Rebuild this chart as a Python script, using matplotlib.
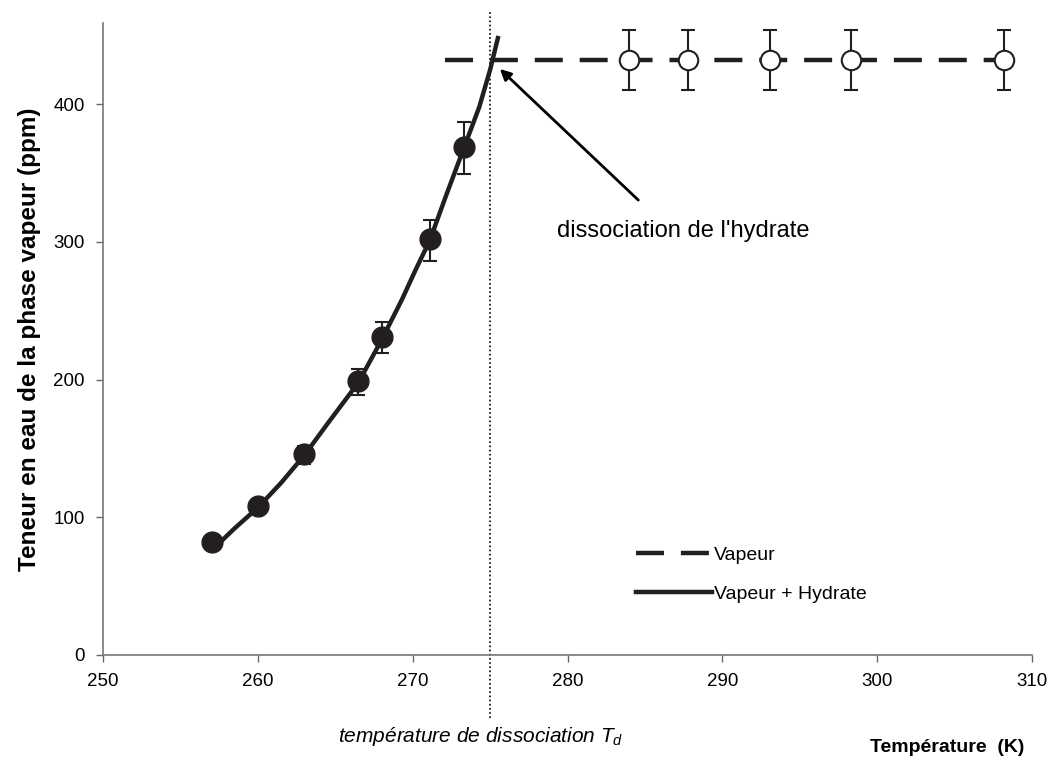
import matplotlib
matplotlib.use('Agg')
import matplotlib.pyplot as plt

plt.rcParams['font.family'] = ['Liberation Sans', 'DejaVu Sans']
plt.rcParams['mathtext.fontset'] = 'custom'
plt.rcParams['mathtext.it'] = 'Liberation Sans:italic'
plt.rcParams['mathtext.rm'] = 'Liberation Sans'

# vapour + hydrate measurements (filled)
t_hyd = [257.05, 260.0, 263.0, 266.5, 268.0, 271.1, 273.3]
w_hyd = [82, 108, 146, 199, 231, 302, 369]
err_hyd_lo = [3, 4, 7, 10, 12, 16, 20]
err_hyd_hi = [3, 4, 6, 9, 11, 14, 18]

# vapour only measurements (open)
t_vap = [284.0, 287.8, 293.1, 298.3, 308.2]
w_vap = [432, 432, 432, 432, 432]
err_vap = [22, 22, 22, 22, 22]

# fitted curve vapour + hydrate
t_curve = [257.3, 258.5, 260.0, 261.5, 263.0, 264.5, 266.5, 268.0, 269.3,
           270.2, 271.1, 272.2, 273.3, 274.3, 275.0, 275.5]
w_curve = [79, 92, 107, 125, 145, 168, 198, 229, 258,
           280, 301, 335, 368, 398, 425, 448]

# vapour line
t_line = [272.1, 308.2]
w_line = [432, 432]

t_diss = 275.0

fig = plt.figure(figsize=(10.51, 7.61), dpi=100)
ax = fig.add_axes([0.098, 0.1393, 0.884, 0.8305])

ax.plot(t_line, w_line, color='#231f20', lw=3.2, dashes=(6.3, 3.8), label='Vapeur', zorder=2)
ax.plot(t_curve, w_curve, color='#231f20', lw=3.2, label='Vapeur + Hydrate', zorder=3)

ax.errorbar(t_hyd, w_hyd, yerr=[err_hyd_lo, err_hyd_hi], fmt='o', ms=15, color='#231f20',
            ecolor='#231f20', elinewidth=1.5, capsize=5, capthick=1.5, zorder=4)
ax.errorbar(t_vap, w_vap, yerr=err_vap, fmt='o', ms=14, mfc='white', mec='#231f20', mew=1.5,
            ecolor='#231f20', elinewidth=1.5, capsize=5, capthick=1.5, zorder=4)

ax.axvline(t_diss, color='black', lw=1.2, ls=(0, (1, 1.5)), ymin=-0.1, ymax=1.02,
           clip_on=False, zorder=1)

ax.annotate('', xy=(275.5, 427), xytext=(284.7, 329),
            arrowprops=dict(arrowstyle='-|>', color='black', lw=2, mutation_scale=16))
ax.text(287.5, 308, "dissociation de l'hydrate", fontsize=17, ha='center', va='center')

ax.set_xlim(250, 310)
ax.set_ylim(0, 459)
ax.set_xticks(range(250, 311, 10))
ax.set_yticks(range(0, 401, 100))
ax.tick_params(labelsize=13.5, direction='out', length=5, width=1, color='#666666', pad=8)
for s in ['top', 'right']:
    ax.spines[s].set_visible(False)
for s in ['left', 'bottom']:
    ax.spines[s].set_color('#777777')
    ax.spines[s].set_linewidth(1.2)

ax.set_ylabel('Teneur en eau de la phase vapeur (ppm)', fontsize=17.5, fontweight='bold', labelpad=9)

leg = ax.legend(loc='upper left', bbox_to_anchor=(0.555, 0.2), frameon=False, fontsize=14,
                handlelength=3.9, handletextpad=0.1, labelspacing=1.1)

fig.text(0.457, 0.032, 'température de dissociation $T_d$', fontsize=15, style='italic',
         ha='center', va='center')
fig.text(0.975, 0.018, 'Température  (K)', fontsize=14, fontweight='bold', ha='right', va='center')

fig.savefig('out.png', dpi=100)
